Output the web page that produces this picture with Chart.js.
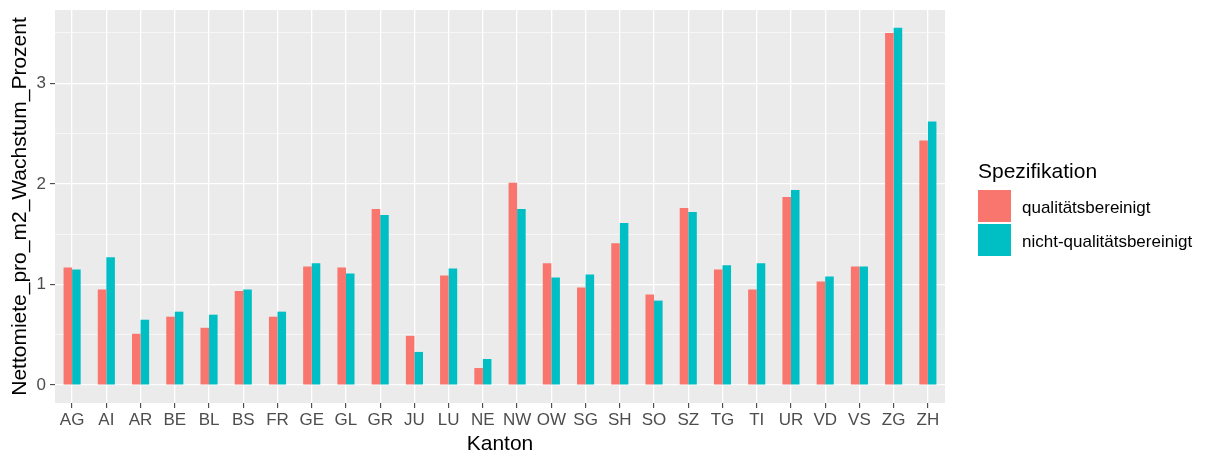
<!DOCTYPE html>
<html>
<head>
<meta charset="utf-8">
<script src="https://cdn.jsdelivr.net/npm/chart.js@4.4.1/dist/chart.umd.min.js"></script>
<style>
  html, body { margin: 0; padding: 0; background: #fff; }
  #wrap { width: 1205px; height: 457px; }
</style>
</head>
<body>
<div id="wrap"><canvas id="chart" width="1205" height="457"></canvas></div>
<script>
// Kantone and growth values
const cantons = ['AG', 'AI', 'AR', 'BE', 'BL', 'BS', 'FR', 'GE', 'GL', 'GR', 'JU', 'LU', 'NE',
  'NW', 'OW', 'SG', 'SH', 'SO', 'SZ', 'TG', 'TI', 'UR', 'VD', 'VS', 'ZG', 'ZH'];
const qualitaetsbereinigt = [1.17, 0.95, 0.51, 0.68, 0.57, 0.935, 0.68, 1.18, 1.17, 1.75, 0.49, 1.09, 0.17,
  2.01, 1.21, 0.97, 1.41, 0.90, 1.76, 1.15, 0.95, 1.87, 1.03, 1.18, 3.50, 2.43];
const nichtQualitaetsbereinigt = [1.15, 1.27, 0.65, 0.73, 0.70, 0.95, 0.73, 1.21, 1.11, 1.69, 0.33, 1.16, 0.26,
  1.75, 1.07, 1.10, 1.61, 0.84, 1.72, 1.19, 1.21, 1.94, 1.08, 1.18, 3.55, 2.62];
const yTicks = [0, 0.5, 1, 1.5, 2, 2.5, 3, 3.5];
const seriesNames = ['qualitätsbereinigt', 'nicht-qualitätsbereinigt'];
const seriesColors = ['#F8766D', '#00BFC4'];

const FONT = "'Liberation Sans', Arial, sans-serif";
Chart.defaults.font.family = FONT;

const isMajor = v => Number.isInteger(v);

// grey ggplot panel behind the grid
const panelBg = {
  id: 'panelBg',
  beforeDraw(chart) {
    const { ctx, chartArea: a } = chart;
    ctx.save();
    ctx.fillStyle = '#EBEBEB';
    ctx.fillRect(a.left, a.top, a.right - a.left, a.bottom - a.top);
    ctx.restore();
  }
};

// legend on the right, ggplot style (title + square keys)
const sideLegend = {
  id: 'sideLegend',
  afterDraw(chart) {
    const { ctx, chartArea: a } = chart;
    const x = a.right + 33;
    const mid = (a.top + a.bottom) / 2;
    ctx.save();
    ctx.fillStyle = '#000';
    ctx.font = '21px ' + FONT;
    ctx.textBaseline = 'alphabetic';
    ctx.textAlign = 'left';
    ctx.fillText('Spezifikation', x, mid - 28.5);
    ctx.font = '17px ' + FONT;
    ctx.textBaseline = 'middle';
    chart.data.datasets.forEach((ds, i) => {
      const top = mid - 16.5 + i * 34;
      ctx.fillStyle = ds.backgroundColor;
      ctx.fillRect(x, top, 33, 32);
      ctx.fillStyle = '#000';
      ctx.fillText(ds.label, x + 44, top + 18);
    });
    ctx.restore();
  }
};

new Chart(document.getElementById('chart'), {
  type: 'bar',
  data: {
    labels: cantons,
    datasets: [
      { label: seriesNames[0], data: qualitaetsbereinigt, backgroundColor: seriesColors[0] },
      { label: seriesNames[1], data: nichtQualitaetsbereinigt, backgroundColor: seriesColors[1] }
    ]
  },
  options: {
    responsive: false,
    animation: false,
    devicePixelRatio: 1,
    categoryPercentage: 0.5,
    barPercentage: 1,
    layout: { padding: { top: 0, right: 260, left: 0, bottom: 0 } },
    plugins: {
      legend: { display: false },
      tooltip: { enabled: false }
    },
    scales: {
      x: {
        afterFit: s => { s.height = 54; },
        grid: {
          offset: false,
          color: '#FFFFFF',
          lineWidth: 1.3,
          tickLength: 5,
          tickColor: '#333333',
          tickWidth: 1
        },
        border: { display: false },
        ticks: {
          color: '#4D4D4D',
          font: { size: 17 },
          padding: 2,
          maxRotation: 0,
          autoSkip: false
        },
        title: {
          display: true,
          text: 'Kanton',
          color: '#000',
          font: { size: 21 },
          padding: { top: 0, bottom: 0 }
        }
      },
      y: {
        min: -0.1775,
        max: 3.7275,
        afterFit: s => { s.width = 55; s.paddingTop = 10; s.paddingBottom = 0; },
        afterBuildTicks: axis => { axis.ticks = yTicks.map(v => ({ value: v })); },
        grid: {
          color: '#FFFFFF',
          lineWidth: c => (c.tick && isMajor(c.tick.value)) ? 1.3 : 0.6,
          tickLength: 5,
          tickColor: c => (c.tick && isMajor(c.tick.value)) ? '#333333' : 'rgba(0,0,0,0)',
          tickWidth: 1
        },
        border: { display: false },
        ticks: {
          color: '#4D4D4D',
          font: { size: 17 },
          padding: 4,
          callback: v => isMajor(v) ? String(v) : ''
        },
        title: {
          display: true,
          text: 'Nettomiete_pro_m2_Wachstum_Prozent',
          color: '#000',
          font: { size: 21 },
          padding: { top: 8, bottom: 0 }
        }
      }
    }
  },
  plugins: [panelBg, sideLegend]
});
</script>
</body>
</html>
